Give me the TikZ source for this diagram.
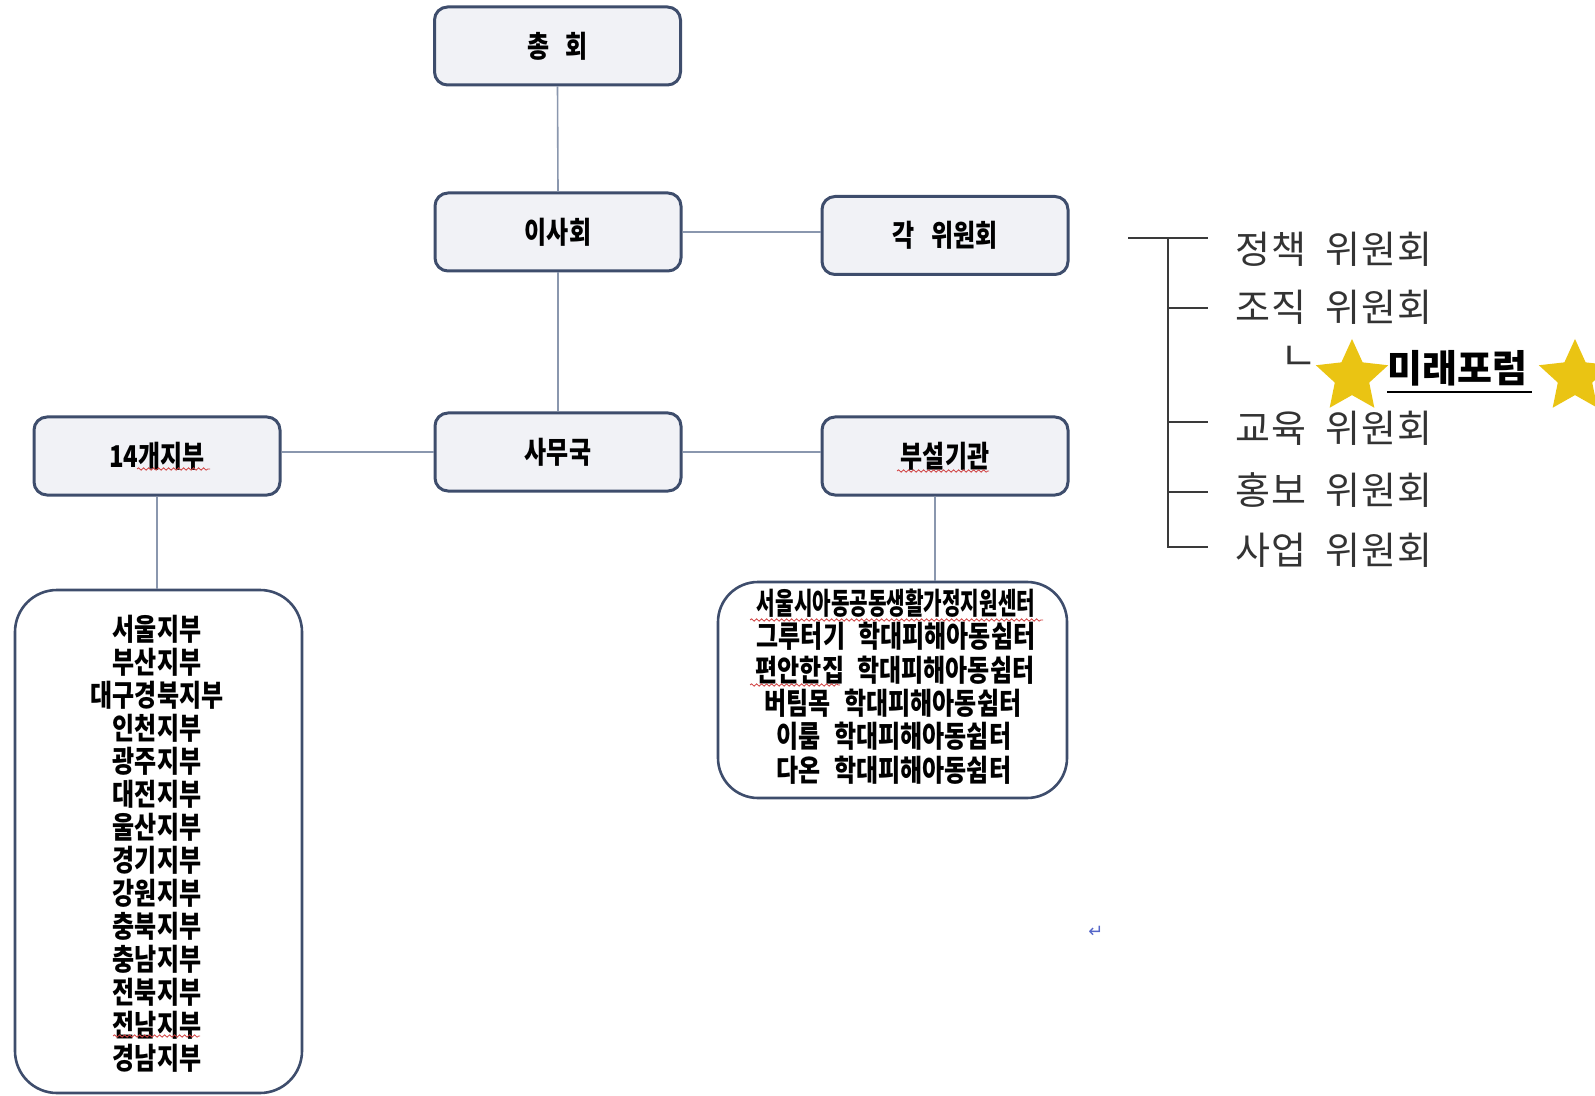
\documentclass[tikz,border=0pt]{standalone}
\usepackage{fontspec}
\usepackage{graphicx}
\usetikzlibrary{shapes.geometric,decorations.pathmorphing,calc}
\newfontfamily\kb{Noto Sans CJK KR}[FakeStretch=0.8]
\newfontfamily\kr{Noto Sans CJK KR}[LetterSpace=3]
\newfontfamily\krb{Noto Sans CJK KR}
\newfontfamily\dv{DejaVu Sans}
\definecolor{boxline}{HTML}{3E4D6C}
\definecolor{boxfill}{HTML}{F1F2F6}
\definecolor{connc}{HTML}{8A97AE}
\definecolor{treeline}{HTML}{3A3A3A}
\definecolor{treetxt}{HTML}{333333}
\definecolor{starcol}{HTML}{EAC413}
\definecolor{retblue}{HTML}{5566C8}
\definecolor{wavyred}{HTML}{D04040}
\tikzset{
  orgbox/.style={draw=boxline, line width=1.5pt, fill=boxfill, rounded corners=6.5pt,
    minimum width=123pt, minimum height=39pt, inner sep=0pt,
    font=\kb\bfseries\fontsize{15}{17}\selectfont},
  bigbox/.style={draw=boxline, line width=1.3pt, fill=white, inner sep=0pt},
  connline/.style={draw=connc, line width=0.8pt},
  listtxt/.style={font=\kb\bfseries\fontsize{15}{17}\selectfont, inner sep=0pt},
  treetxt/.style={font=\kr\fontsize{19}{22}\selectfont, text=treetxt, anchor=west, inner sep=0pt},
  treeln/.style={draw=treeline, line width=1pt},
  wavy/.style={draw=wavyred, line width=0.4pt, decorate,
    decoration={snake, amplitude=0.6pt, segment length=2.5pt}},
  staricon/.style={star, star points=5, star point ratio=2.1, fill=starcol,
    minimum size=38pt, inner sep=0pt}
}
\begin{document}
\begin{tikzpicture}[x=0.5pt,y=-0.5pt]
\useasboundingbox (0,0) rectangle (1595,1096);

% organisation boxes
\node[orgbox] (chonghoe) at (557.5,46) {총\hspace{0.55em}회};
\node[orgbox] (isahoe) at (558,232) {이사회};
\node[orgbox] (wiwon) at (945,235.5) {각\hspace{0.55em}위원회};
\node[orgbox] (samuguk) at (558,452) {사무국};
\node[orgbox] (jibu) at (157,456) {14개지부};
\node[orgbox] (buseol) at (945,456) {부설기관};

\node[bigbox, minimum width=143.5pt, minimum height=251.5pt, rounded corners=21pt] (jibubox) at (158.5,841.5) {};
\node[bigbox, minimum width=174.5pt, minimum height=108pt, rounded corners=20pt] (gigwanbox) at (892.5,690) {};

% connectors
\draw[connline] (chonghoe.south) -- (isahoe.north);
\draw[connline] (isahoe.south) -- (samuguk.north);
\draw[connline] (isahoe.east) -- (isahoe.east -| wiwon.west);
\draw[connline] (samuguk.west) -- (samuguk.west -| jibu.east);
\draw[connline] (samuguk.east) -- (samuguk.east -| buseol.west);
\draw[connline] (jibu.south) -- (jibu.south |- jibubox.north);
\coordinate (bx) at (935,0);
\draw[connline] (buseol.south -| bx) -- (gigwanbox.north -| bx);

% branch list
\foreach \t [count=\i] in {서울지부,부산지부,대구경북지부,인천지부,광주지부,대전지부,울산지부,경기지부,강원지부,충북지부,충남지부,전북지부,전남지부,경남지부}
  \node[listtxt] (br\i) at (157,{629+33*(\i-1)}) {\t};

% affiliated institutions
\node[listtxt] (g1) at (896,603) {\scalebox{0.84}[1]{서울시아동공동생활가정지원센터}};
\node[listtxt] (g2) at (896,636.4) {그루터기\hspace{0.45em}학대피해아동쉼터};
\node[listtxt] (g3) at (895,669.8) {편안한집\hspace{0.45em}학대피해아동쉼터};
\node[listtxt] (g4) at (893,703.2) {버팀목\hspace{0.45em}학대피해아동쉼터};
\node[listtxt] (g5) at (894,736.6) {이룸\hspace{0.45em}학대피해아동쉼터};
\node[listtxt] (g6) at (894,770) {다온\hspace{0.45em}학대피해아동쉼터};

% spell-check wavy underlines
\draw[wavy] (137,469) -- (210,469);
\draw[wavy] (897,471) -- (989,471);
\draw[wavy] (750,620) -- (1043,620);
\draw[wavy] (750,685) -- (840,685);
\draw[wavy] (113,1036) -- (200,1036);

% committee tree
\coordinate (ta) at (1128,238);
\coordinate (tv1) at (1168,238);
\coordinate (tv2) at (1168,547);
\coordinate (e1) at (1208,238);
\coordinate (e2) at (1208,308);
\coordinate (e3) at (1208,422);
\coordinate (e4) at (1208,492);
\coordinate (e5) at (1208,547);
\draw[treeln] (ta) -- (e1);
\draw[treeln] (tv1) -- (tv2) -- (e5);
\draw[treeln] (e2 -| tv1) -- (e2);
\draw[treeln] (e3 -| tv1) -- (e3);
\draw[treeln] (e4 -| tv1) -- (e4);

\node[treetxt] (c1) at (1235,249) {정책\hspace{0.5em}위원회};
\node[treetxt] (c2) at (1235,307) {조직\hspace{0.5em}위원회};
\node[treetxt] (c3) at (1235,428) {교육\hspace{0.5em}위원회};
\node[treetxt] (c4) at (1235,490) {홍보\hspace{0.5em}위원회};
\node[treetxt] (c5) at (1235,550) {사업\hspace{0.5em}위원회};

\node[font=\krb\fontsize{20}{22}\selectfont, text=treetxt, inner sep=0pt] (nieun) at (1299,358) {ㄴ};
\node[staricon] (star1) at (1352,377) {};
\node[font=\krb\bfseries\fontsize{19}{21}\selectfont, anchor=west, inner sep=0pt] (mirae) at (1387,368) {미래포럼};
\draw[line width=1pt] ($(mirae.south west)+(0,6)$) -- ($(mirae.south east)+(4,6)$);
\node[staricon] (star2) at (1575,377) {};

% paragraph mark
\node[font=\dv\fontsize{9}{11}\selectfont, text=retblue, inner sep=0pt] (ret) at (1096,932) {↵};
\end{tikzpicture}
\end{document}
